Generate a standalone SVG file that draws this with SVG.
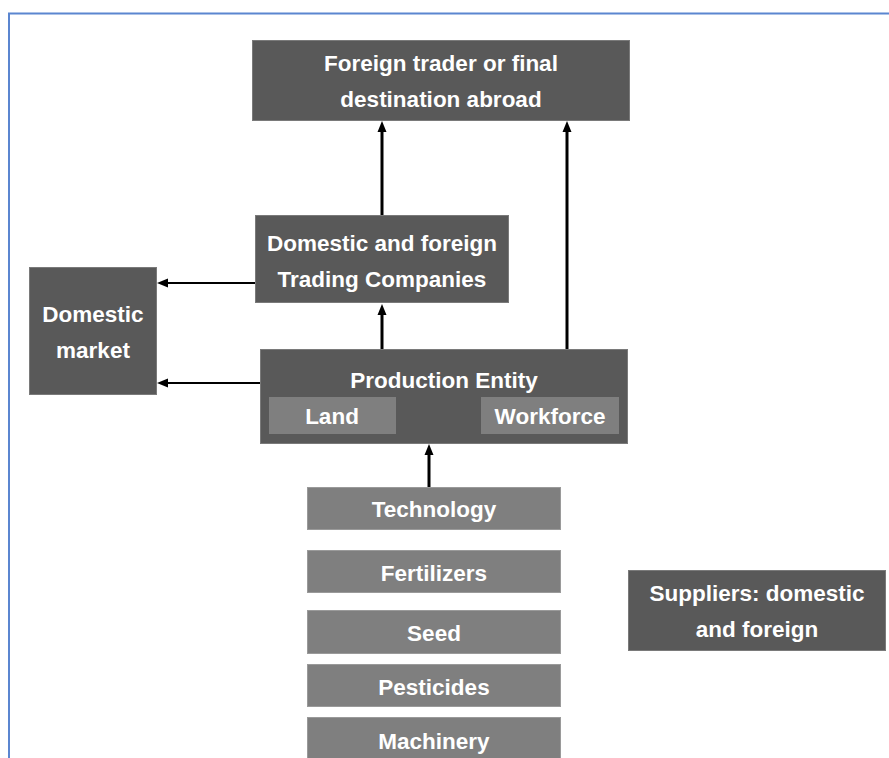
<svg xmlns="http://www.w3.org/2000/svg" width="889" height="758" viewBox="0 0 889 758">
  <defs>
    <marker id="ah" markerUnits="userSpaceOnUse" markerWidth="12" markerHeight="12" viewBox="0 -6 12 12" refX="0" refY="0" orient="auto">
      <path d="M0,-4.5 L11,0 L0,4.5 z" fill="#000"/>
    </marker>
    <style>
      .dark { fill: #595959; stroke: #7a7a7a; stroke-width: 1; }
      .light { fill: #7f7f7f; stroke: #9a9a9a; stroke-width: 1; }
      .inner { fill: #7f7f7f; stroke: none; }
      .t { font-family: "Liberation Sans", Arial, sans-serif; font-weight: bold; font-size: 22.5px; fill: #ffffff; text-anchor: middle; }
      .v { stroke: #000; stroke-width: 3; fill: none; }
      .h { stroke: #000; stroke-width: 2; fill: none; }
    </style>
  </defs>
  <rect x="0" y="0" width="889" height="758" fill="#ffffff"/>
  <g id="frame">
    <path d="M9,758 L9,13.5 L889,13.5" fill="none" stroke="#5b86d0" stroke-width="2"/>
  </g>

  <g id="foreign-trader">
    <rect class="dark" x="252.5" y="40.5" width="377" height="80"/>
    <text class="t" x="441" y="71">Foreign trader or final</text>
    <text class="t" x="441" y="107">destination abroad</text>
  </g>

  <g id="trading-companies">
    <rect class="dark" x="255.5" y="215.5" width="253" height="87"/>
    <text class="t" x="382" y="251">Domestic and foreign</text>
    <text class="t" x="382" y="287">Trading Companies</text>
  </g>

  <g id="domestic-market">
    <rect class="dark" x="29.5" y="267.5" width="127" height="127"/>
    <text class="t" x="93" y="322">Domestic</text>
    <text class="t" x="93" y="358">market</text>
  </g>

  <g id="production-entity">
    <rect class="dark" x="260.5" y="349.5" width="367" height="94"/>
    <text class="t" x="444" y="388">Production Entity</text>
    <g id="land">
      <rect class="inner" x="269" y="397" width="127" height="37"/>
      <text class="t" x="332" y="424">Land</text>
    </g>
    <g id="workforce">
      <rect class="inner" x="481" y="397" width="138" height="37"/>
      <text class="t" x="550" y="424">Workforce</text>
    </g>
  </g>

  <g id="technology">
    <rect class="light" x="307.5" y="487.5" width="253" height="42"/>
    <text class="t" x="434" y="517">Technology</text>
  </g>
  <g id="fertilizers">
    <rect class="light" x="307.5" y="550.5" width="253" height="42"/>
    <text class="t" x="434" y="581">Fertilizers</text>
  </g>
  <g id="seed">
    <rect class="light" x="307.5" y="610.5" width="253" height="43"/>
    <text class="t" x="434" y="641">Seed</text>
  </g>
  <g id="pesticides">
    <rect class="light" x="307.5" y="664.5" width="253" height="42"/>
    <text class="t" x="434" y="695">Pesticides</text>
  </g>
  <g id="machinery">
    <rect class="light" x="307.5" y="717.5" width="253" height="45"/>
    <text class="t" x="434" y="749">Machinery</text>
  </g>

  <g id="suppliers">
    <rect class="dark" x="628.5" y="570.5" width="257" height="80"/>
    <text class="t" x="757" y="601">Suppliers: domestic</text>
    <text class="t" x="757" y="637">and foreign</text>
  </g>

  <g id="connectors">
    <line class="v" x1="382" y1="215" x2="382" y2="132" marker-end="url(#ah)"/>
    <line class="v" x1="567" y1="349" x2="567" y2="132" marker-end="url(#ah)"/>
    <line class="v" x1="382" y1="349" x2="382" y2="315" marker-end="url(#ah)"/>
    <line class="h" x1="255" y1="283" x2="168" y2="283" marker-end="url(#ah)"/>
    <line class="h" x1="260" y1="383" x2="168" y2="383" marker-end="url(#ah)"/>
    <line class="v" x1="429" y1="487" x2="429" y2="455" marker-end="url(#ah)"/>
  </g>
</svg>
